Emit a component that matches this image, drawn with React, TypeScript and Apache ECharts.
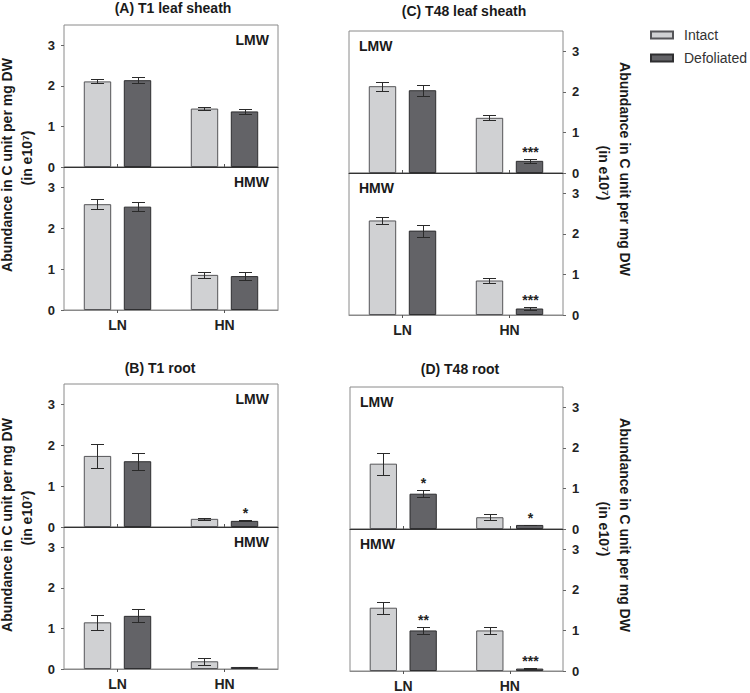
import React, { useEffect, useRef } from "react";
import * as echarts from "echarts";

const categories = ["LN", "HN"];
const seriesNames = ["Intact", "Defoliated"];

// (A) T1 leaf sheath
const aLmwIntact = [2.11, 1.44];
const aLmwIntactErr = [0.05, 0.04];
const aLmwDefol = [2.14, 1.37];
const aLmwDefolErr = [0.08, 0.07];
const aLmwDefolSig = ["", ""];
const aHmwIntact = [2.59, 0.86];
const aHmwIntactErr = [0.13, 0.08];
const aHmwDefol = [2.53, 0.83];
const aHmwDefolErr = [0.11, 0.09];
const aHmwDefolSig = ["", ""];

// (B) T1 root
const bLmwIntact = [1.74, 0.2];
const bLmwIntactErr = [0.3, 0.02];
const bLmwDefol = [1.61, 0.15];
const bLmwDefolErr = [0.21, 0.015];
const bLmwDefolSig = ["", "*"];
const bHmwIntact = [1.15, 0.19];
const bHmwIntactErr = [0.18, 0.08];
const bHmwDefol = [1.31, 0.05];
const bHmwDefolErr = [0.16, 0.01];
const bHmwDefolSig = ["", ""];

// (C) T48 leaf sheath
const cLmwIntact = [2.14, 1.36];
const cLmwIntactErr = [0.11, 0.06];
const cLmwDefol = [2.04, 0.3];
const cLmwDefolErr = [0.14, 0.05];
const cLmwDefolSig = ["", "***"];
const cHmwIntact = [2.33, 0.85];
const cHmwIntactErr = [0.09, 0.07];
const cHmwDefol = [2.08, 0.16];
const cHmwDefolErr = [0.15, 0.045];
const cHmwDefolSig = ["", "***"];

// (D) T48 root
const dLmwIntact = [1.61, 0.29];
const dLmwIntactErr = [0.27, 0.08];
const dLmwDefol = [0.87, 0.1];
const dLmwDefolErr = [0.09, 0.01];
const dLmwDefolSig = ["*", "*"];
const dHmwIntact = [1.56, 1.0];
const dHmwIntactErr = [0.15, 0.09];
const dHmwDefol = [1.0, 0.06];
const dHmwDefolErr = [0.09, 0.01];
const dHmwDefolSig = ["**", "***"];

const yMin = 0;
const yMax = 3.5;
const yInterval = 1;

const FONT = "'Liberation Sans', Arial, Helvetica, sans-serif";
const INTACT_FILL = "#d0d1d3";
const INTACT_BORDER = "#555558";
const DEFOL_FILL = "#636367";
const DEFOL_BORDER = "#2e2e30";
const ERR_COLOR = "#2a2a2a";
const BOX_COLOR = "#8a8a8a";

const panels = [
  {
    title: "(A) T1 leaf sheath", titleX: 173, titleY: 8,
    left: 64, width: 214, top: 25, mid: 167, bottom: 310, side: "left",
    lmw: [aLmwIntact, aLmwIntactErr, aLmwDefol, aLmwDefolErr, aLmwDefolSig],
    hmw: [aHmwIntact, aHmwIntactErr, aHmwDefol, aHmwDefolErr, aHmwDefolSig],
  },
  {
    title: "(B) T1 root", titleX: 160, titleY: 368,
    left: 64, width: 214, top: 384, mid: 527, bottom: 669, side: "left",
    lmw: [bLmwIntact, bLmwIntactErr, bLmwDefol, bLmwDefolErr, bLmwDefolSig],
    hmw: [bHmwIntact, bHmwIntactErr, bHmwDefol, bHmwDefolErr, bHmwDefolSig],
  },
  {
    title: "(C) T48 leaf sheath", titleX: 464, titleY: 11,
    left: 349, width: 214, top: 31, mid: 173, bottom: 315, side: "right",
    lmw: [cLmwIntact, cLmwIntactErr, cLmwDefol, cLmwDefolErr, cLmwDefolSig],
    hmw: [cHmwIntact, cHmwIntactErr, cHmwDefol, cHmwDefolErr, cHmwDefolSig],
  },
  {
    title: "(D) T48 root", titleX: 460, titleY: 369,
    left: 350, width: 213, top: 387, mid: 529, bottom: 672, side: "right",
    lmw: [dLmwIntact, dLmwIntactErr, dLmwDefol, dLmwDefolErr, dLmwDefolSig],
    hmw: [dHmwIntact, dHmwIntactErr, dHmwDefol, dHmwDefolErr, dHmwDefolSig],
  },
];

const CAT_GAP = 0.37;
const BAR_GAP = 0.46;

function makeErrRender(vals: number[], errs: number[], sigs: string[], sign: number) {
  return (params: any, api: any) => {
    const i = params.dataIndex;
    const v = vals[i];
    const e = errs[i];
    const band = api.size([1, 0])[0];
    const bw = (band * (1 - CAT_GAP)) / (2 + BAR_GAP);
    const off = (sign * bw * (1 + BAR_GAP)) / 2;
    const base = api.coord([i, v]);
    const x = Math.round(base[0] + off) + 0.5;
    const yt = Math.round(api.coord([i, v + e])[1]) + 0.5;
    const yb = Math.round(api.coord([i, v - e])[1]) + 0.5;
    const cap = 6.5;
    const st = { stroke: ERR_COLOR, lineWidth: 1 };
    const children: any[] = [
      { type: "line", shape: { x1: x, y1: yt, x2: x, y2: yb }, style: st },
      { type: "line", shape: { x1: x - cap, y1: yt, x2: x + cap, y2: yt }, style: st },
      { type: "line", shape: { x1: x - cap, y1: yb, x2: x + cap, y2: yb }, style: st },
    ];
    if (sigs && sigs[i]) {
      children.push({
        type: "text",
        x: x,
        y: yt - 1,
        style: {
          text: sigs[i],
          fill: "#222",
          fontSize: 14,
          fontWeight: "bold",
          fontFamily: FONT,
          align: "center",
          verticalAlign: "bottom",
        },
      });
    }
    return { type: "group", children };
  };
}

function buildOption() {
  const grid: any[] = [];
  const xAxis: any[] = [];
  const yAxis: any[] = [];
  const series: any[] = [];
  const graphic: any[] = [];

  panels.forEach((p) => {
    const halves = [
      { key: "LMW", top: p.top, h: p.mid - p.top, d: p.lmw, isTop: true },
      { key: "HMW", top: p.mid, h: p.bottom - p.mid, d: p.hmw, isTop: false },
    ];
    halves.forEach((hf) => {
      const gi = grid.length;
      grid.push({
        left: p.left, top: hf.top, width: p.width, height: hf.h,
        show: true, borderColor: BOX_COLOR, borderWidth: 1, backgroundColor: "#fff",
        containLabel: false,
      });
      xAxis.push({
        type: "category", gridIndex: gi, data: categories,
        axisLine: { show: true, lineStyle: { color: hf.isTop ? "#333" : BOX_COLOR, width: 1 } },
        axisTick: { show: true, alignWithLabel: true, inside: hf.isTop, length: 3, lineStyle: { color: "#555" } },
        axisLabel: {
          show: !hf.isTop, margin: 8, color: "#222", fontSize: 14, fontWeight: "bold", fontFamily: FONT,
        },
        splitLine: { show: false },
      });
      yAxis.push({
        type: "value", gridIndex: gi, min: yMin, max: yMax, interval: yInterval,
        position: p.side,
        axisLine: { show: false },
        axisTick: { show: true, inside: false, length: 3, lineStyle: { color: "#666" } },
        axisLabel: {
          showMaxLabel: false, margin: 9, color: "#222", fontSize: 13, fontWeight: "bold", fontFamily: FONT,
        },
        splitLine: { show: false },
      });
      const [iv, ie, dv, de, ds] = hf.d as any[];
      series.push({
        type: "bar", name: seriesNames[0], xAxisIndex: gi, yAxisIndex: gi, data: iv,
        barCategoryGap: CAT_GAP * 100 + "%", barGap: BAR_GAP * 100 + "%",
        itemStyle: { color: INTACT_FILL, borderColor: INTACT_BORDER, borderWidth: 1 },
      });
      series.push({
        type: "bar", name: seriesNames[1], xAxisIndex: gi, yAxisIndex: gi, data: dv,
        barCategoryGap: CAT_GAP * 100 + "%", barGap: BAR_GAP * 100 + "%",
        itemStyle: { color: DEFOL_FILL, borderColor: DEFOL_BORDER, borderWidth: 1 },
      });
      series.push({
        type: "custom", xAxisIndex: gi, yAxisIndex: gi, z: 5,
        data: iv.map((v: number, i: number) => [i, v]),
        encode: { x: 0, y: 1 },
        renderItem: makeErrRender(iv, ie, [], -1),
      });
      series.push({
        type: "custom", xAxisIndex: gi, yAxisIndex: gi, z: 5,
        data: dv.map((v: number, i: number) => [i, v]),
        encode: { x: 0, y: 1 },
        renderItem: makeErrRender(dv, de, ds, 1),
      });
      // sub-panel label
      const right = p.side === "left";
      graphic.push({
        type: "text",
        x: right ? p.left + p.width - 9 : p.left + 10,
        y: hf.top + 15,
        style: {
          text: hf.key, fill: "#1a1a1a", fontSize: 14, fontWeight: "bold", fontFamily: FONT,
          align: right ? "right" : "left", verticalAlign: "middle",
        },
      });
    });

    // title
    graphic.push({
      type: "text", x: p.titleX, y: p.titleY,
      style: {
        text: p.title, fill: "#1a1a1a", fontSize: 14, fontWeight: "bold", fontFamily: FONT,
        align: "center", verticalAlign: "middle",
      },
    });

    // y axis name (two lines)
    const nameStyle = { fill: "#1a1a1a", fontSize: 14, fontWeight: "bold", fontFamily: FONT, align: "center", verticalAlign: "middle" };
    if (p.side === "left") {
      graphic.push({
        type: "text", x: 7, y: p.mid - 2, rotation: Math.PI / 2,
        style: { ...nameStyle, text: "Abundance in C unit per mg DW" },
      });
      graphic.push({
        type: "text", x: 27, y: p.mid - 9, rotation: Math.PI / 2,
        style: { ...nameStyle, text: "(in e10⁷)" },
      });
    } else {
      graphic.push({
        type: "text", x: 625, y: p.mid - 4, rotation: -Math.PI / 2,
        style: { ...nameStyle, text: "Abundance in C unit per mg DW" },
      });
      graphic.push({
        type: "text", x: 604, y: p.mid, rotation: -Math.PI / 2,
        style: { ...nameStyle, text: "(in e10⁷)" },
      });
    }
  });

  return {
    animation: false,
    backgroundColor: "#ffffff",
    legend: {
      data: seriesNames,
      orient: "vertical",
      left: 645,
      top: 23,
      itemWidth: 22,
      itemHeight: 7,
      itemGap: 9,
      icon: "rect",
      selectedMode: false,
      textStyle: { fontSize: 14, color: "#333", fontFamily: FONT, padding: [0, 0, 0, 6] },
    },
    grid,
    xAxis,
    yAxis,
    series,
    graphic,
  };
}

export default function App() {
  const ref = useRef<HTMLDivElement>(null);
  useEffect(() => {
    if (!ref.current) return;
    const chart = echarts.init(ref.current, undefined, { renderer: "svg" });
    chart.setOption(buildOption() as any);
    return () => chart.dispose();
  }, []);
  return (
    <div
      ref={ref}
      style={{ position: "fixed", left: 0, top: 0, width: 750, height: 693, background: "#fff" }}
    />
  );
}
